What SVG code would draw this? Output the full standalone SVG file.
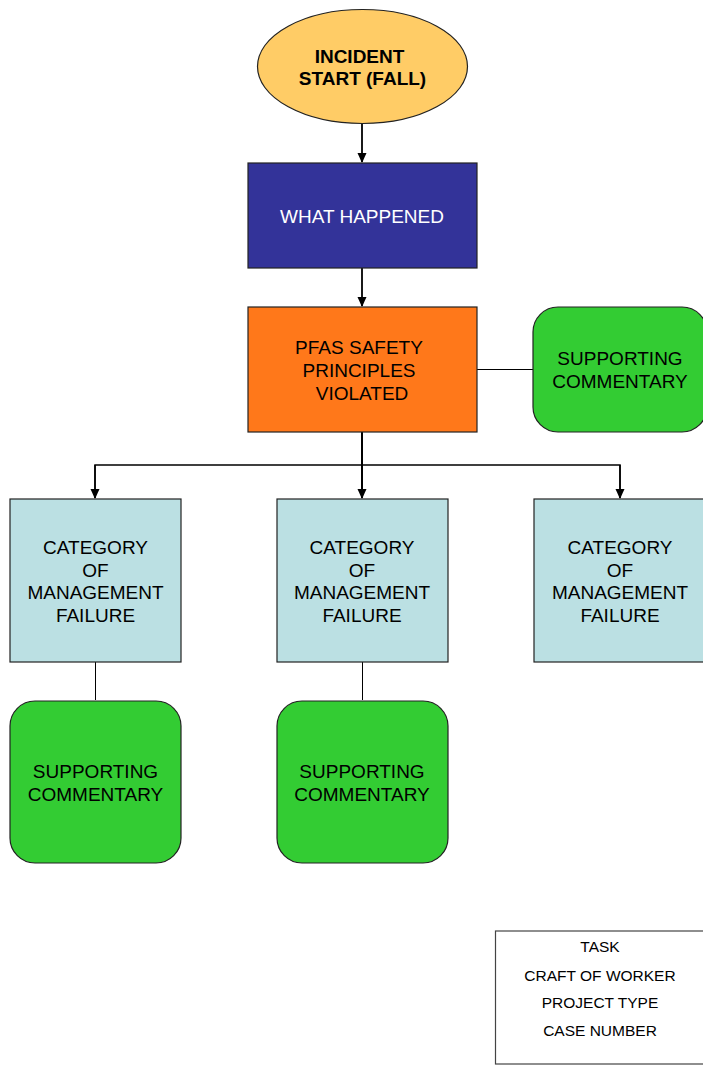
<svg xmlns="http://www.w3.org/2000/svg" width="703" height="1068" viewBox="0 0 703 1068">
<style>
text{font-family:"Liberation Sans",Arial,sans-serif;font-size:19px;fill:#000;text-anchor:middle}
.b{font-weight:bold}
.w{fill:#fff}
.s{font-size:15.5px}
.box{stroke:#222;stroke-width:1.2}
.cat{fill:#BBE0E3}
.grn{fill:#33CC33}
.ln{stroke:#000;fill:none}
</style>
<defs>
<marker id="ah" markerWidth="10" markerHeight="10" refX="9" refY="5" orient="auto" markerUnits="userSpaceOnUse">
<path d="M0,0.5 L10,5 L0,9.5 z" fill="#000"/>
</marker>
</defs>
<rect width="703" height="1068" fill="#fff"/>
<g id="connectors">
<line class="ln" x1="362" y1="124" x2="362" y2="162" stroke-width="1.8" marker-end="url(#ah)"/>
<line class="ln" x1="362" y1="268" x2="362" y2="306" stroke-width="1.8" marker-end="url(#ah)"/>
<line class="ln" x1="477" y1="369.5" x2="533" y2="369.5" stroke-width="1"/>
<line class="ln" x1="362" y1="432" x2="362" y2="498" stroke-width="2" marker-end="url(#ah)"/>
<polyline class="ln" points="95,498 95,465 620,465 620,498" stroke-width="1.5"/>
<line class="ln" x1="95" y1="465" x2="95" y2="498" stroke-width="1.5" marker-end="url(#ah)"/>
<line class="ln" x1="620" y1="465" x2="620" y2="498" stroke-width="1.5" marker-end="url(#ah)"/>
<line class="ln" x1="95.5" y1="662" x2="95.5" y2="700" stroke-width="1"/>
<line class="ln" x1="362.5" y1="662" x2="362.5" y2="700" stroke-width="1"/>
</g>
<g id="incident">
<ellipse class="box" cx="362.5" cy="66.5" rx="105" ry="57" fill="#FFCC66"/>
<text class="b" x="359.5" y="63">INCIDENT</text>
<text class="b" x="362.5" y="85">START (FALL)</text>
</g>
<g id="what-happened">
<rect class="box" x="248" y="163" width="229" height="105" fill="#333399"/>
<text class="w" x="362" y="223">WHAT HAPPENED</text>
</g>
<g id="pfas">
<rect class="box" x="248" y="307" width="229" height="125" fill="#FF781A"/>
<text x="359" y="354">PFAS SAFETY</text>
<text x="359" y="377">PRINCIPLES</text>
<text x="362" y="400">VIOLATED</text>
</g>
<g id="commentary-top">
<rect class="box grn" x="533" y="307" width="174" height="125" rx="25" ry="25"/>
<text x="620" y="365">SUPPORTING</text>
<text x="620" y="388">COMMENTARY</text>
</g>
<g id="category-1">
<rect class="box cat" x="10" y="499" width="171" height="163"/>
<text x="95.5" y="554">CATEGORY</text>
<text x="95.5" y="577">OF</text>
<text x="95.5" y="599">MANAGEMENT</text>
<text x="95.5" y="622">FAILURE</text>
</g>
<g id="category-2">
<rect class="box cat" x="277" y="499" width="171" height="163"/>
<text x="362" y="554">CATEGORY</text>
<text x="362" y="577">OF</text>
<text x="362" y="599">MANAGEMENT</text>
<text x="362" y="622">FAILURE</text>
</g>
<g id="category-3">
<rect class="box cat" x="534" y="499" width="172" height="163"/>
<text x="620" y="554">CATEGORY</text>
<text x="620" y="577">OF</text>
<text x="620" y="599">MANAGEMENT</text>
<text x="620" y="622">FAILURE</text>
</g>
<g id="commentary-1">
<rect class="box grn" x="10" y="701" width="171" height="162" rx="25" ry="25"/>
<text x="95.5" y="778">SUPPORTING</text>
<text x="95.5" y="801">COMMENTARY</text>
</g>
<g id="commentary-2">
<rect class="box grn" x="277" y="701" width="171" height="162" rx="25" ry="25"/>
<text x="362" y="778">SUPPORTING</text>
<text x="362" y="801">COMMENTARY</text>
</g>
<g id="legend">
<rect x="495.5" y="931" width="210" height="133" fill="#fff" stroke="#444" stroke-width="1.2"/>
<text class="s" x="600" y="952">TASK</text>
<text class="s" x="600" y="980.5">CRAFT OF WORKER</text>
<text class="s" x="600" y="1008">PROJECT TYPE</text>
<text class="s" x="600" y="1036">CASE NUMBER</text>
</g>
</svg>
